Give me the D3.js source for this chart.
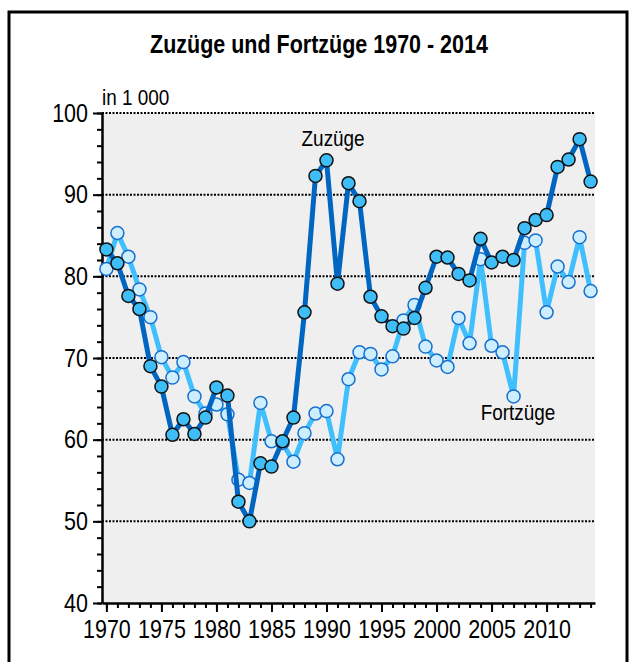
<!DOCTYPE html>
<html>
<head>
<meta charset="utf-8">
<script src="https://cdn.jsdelivr.net/npm/d3@7"></script>
<style>
  body { margin: 0; background: #fff; }
  text { font-family: "Liberation Sans", Arial, sans-serif; }
</style>
</head>
<body>
<script>
// Werte in 1 000
var years = d3.range(1970, 2015);
var zuzuege = [83.3, 81.6, 77.6, 76.0, 69.0, 66.5, 60.6, 62.5, 60.7, 62.7,
               66.4, 65.4, 52.4, 50.0, 57.1, 56.7, 59.8, 62.7, 75.6, 92.3,
               94.2, 79.1, 91.4, 89.2, 77.5, 75.1, 73.9, 73.6, 74.9, 78.6,
               82.4, 82.3, 80.3, 79.5, 84.6, 81.7, 82.4, 82.0, 85.9, 86.9,
               87.5, 93.4, 94.3, 96.8, 91.6];
var fortzuege = [80.9, 85.3, 82.4, 78.4, 75.0, 70.1, 67.6, 69.5, 65.3, 63.2,
                 64.3, 63.1, 55.1, 54.7, 64.5, 59.8, 59.6, 57.3, 60.8, 63.2,
                 63.5, 57.6, 67.4, 70.7, 70.5, 68.6, 70.2, 74.6, 76.5, 71.4,
                 69.7, 68.9, 74.9, 71.8, 82.1, 71.5, 70.7, 65.3, 84.1, 84.4,
                 75.6, 81.2, 79.3, 84.8, 78.2];
var yTicks = [40, 50, 60, 70, 80, 90, 100];
var xTicks = [1970, 1975, 1980, 1985, 1990, 1995, 2000, 2005, 2010];

var W = 633, H = 662;
var margin = {top: 113, right: 38, bottom: 59, left: 102},
    width = W - margin.left - margin.right,
    height = H - margin.top - margin.bottom;

var narrow = 0.86; // schmale Schrift nachbilden

var svg = d3.select("body").append("svg")
    .attr("width", W)
    .attr("height", H);

function label(parent, x, y, str, size, anchor, weight) {
    return parent.append("text")
        .attr("transform", "translate(" + x + "," + y + ") scale(" + narrow + ",1)")
        .style("text-anchor", anchor)
        .style("font-size", size + "px")
        .style("font-weight", weight || "normal")
        .text(str);
}

function squeeze(sel) {
    sel.attr("transform", function() {
        var xx = +d3.select(this).attr("x") || 0;
        return "translate(" + xx + ",0) scale(" + narrow + ",1) translate(" + (-xx) + ",0)";
    });
}

// Rahmen
svg.append("rect")
    .attr("x", 9).attr("y", 12)
    .attr("width", 618).attr("height", 670)
    .style("fill", "none")
    .style("stroke", "#000")
    .style("stroke-width", 3);

label(svg, 319, 53, "Zuzüge und Fortzüge 1970 - 2014", 25, "middle", "bold");

var g = svg.append("g")
    .attr("transform", "translate(" + margin.left + "," + margin.top + ")");

var x = d3.scaleLinear().domain([1969.6, 2014.4]).range([0, width]);
var y = d3.scaleLinear().domain([40, 100]).range([height, 0]);

g.append("rect")
    .attr("width", width).attr("height", height)
    .style("fill", "#efefef");

// gepunktete Gitterlinien
g.selectAll(".grid")
    .data(yTicks.filter(d => d > 40))
    .enter().append("line")
    .attr("x1", 0).attr("x2", width)
    .attr("y1", d => y(d)).attr("y2", d => y(d))
    .style("stroke", "#000")
    .style("stroke-width", 2)
    .style("stroke-dasharray", "2,1.5");

label(g, 0, -8, "in 1 000", 22, "start");

// y-Achse: kleine Striche alle 2
g.append("g")
    .call(d3.axisLeft(y).tickValues(d3.range(40, 101, 2)).tickSize(5).tickFormat(""))
    .call(a => a.select(".domain").remove())
    .selectAll("line").style("stroke-width", 2);
var yAxis = g.append("g")
    .call(d3.axisLeft(y).tickValues(yTicks).tickSize(9).tickPadding(5).tickSizeOuter(0));
yAxis.selectAll("line").style("stroke-width", 2);
yAxis.select(".domain").style("stroke-width", 2.5);
yAxis.selectAll("text").style("font-size", "25px").style("font-family", null).call(squeeze);

// x-Achse: kleine Striche jedes Jahr
g.append("g")
    .attr("transform", "translate(0," + height + ")")
    .call(d3.axisBottom(x).tickValues(years).tickSize(5).tickFormat(""))
    .call(a => a.select(".domain").remove())
    .selectAll("line").style("stroke-width", 2);
var xAxis = g.append("g")
    .attr("transform", "translate(0," + height + ")")
    .call(d3.axisBottom(x).tickValues(xTicks).tickSize(9).tickPadding(11)
          .tickFormat(d3.format("d")).tickSizeOuter(0));
xAxis.selectAll("line").style("stroke-width", 2);
xAxis.select(".domain").style("stroke-width", 2.5);
xAxis.selectAll("text").style("font-size", "25px").style("font-family", null)
    .attr("dy", "0.62em").call(squeeze);

var line = d3.line()
    .x((d, i) => x(years[i]))
    .y(d => y(d));

// Fortzüge
g.append("path")
    .datum(fortzuege)
    .attr("d", line)
    .style("fill", "none")
    .style("stroke", "#40bfff")
    .style("stroke-width", 5)
    .style("stroke-linejoin", "round");
g.selectAll(".pf")
    .data(fortzuege)
    .enter().append("circle")
    .attr("cx", (d, i) => x(years[i]))
    .attr("cy", d => y(d))
    .attr("r", 6.5)
    .style("fill", "#cdeeff")
    .style("stroke", "#1570cf")
    .style("stroke-width", 1.5);

// Zuzüge
g.append("path")
    .datum(zuzuege)
    .attr("d", line)
    .style("fill", "none")
    .style("stroke", "#0066c2")
    .style("stroke-width", 5)
    .style("stroke-linejoin", "round");
g.selectAll(".pz")
    .data(zuzuege)
    .enter().append("circle")
    .attr("cx", (d, i) => x(years[i]))
    .attr("cy", d => y(d))
    .attr("r", 6.5)
    .style("fill", "#3fbdf7")
    .style("stroke", "#111")
    .style("stroke-width", 1.5);

label(g, x(1990.6), y(95.9), "Zuzüge", 22, "middle");
label(g, x(2007.4), y(62.4), "Fortzüge", 22, "middle");
</script>
</body>
</html>
